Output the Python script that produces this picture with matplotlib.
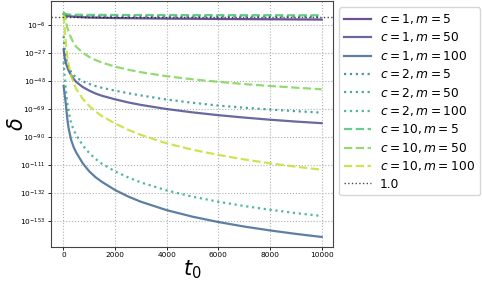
import numpy as np
import matplotlib
matplotlib.use("Agg")
import matplotlib.pyplot as plt

# t0 grid the curves were read at
t0 = [10, 50, 100, 150, 200, 300, 400, 500, 750, 1000, 1250, 1500,
      2000, 2500, 3000, 4000, 5000, 6000, 7000, 8000, 9000, 10000]

# log10(delta)
c1_m5 = [2.5, 1.8, 1.2, 1.0, 0.8, 0.6, 0.45, 0.3, 0.0, -0.2, -0.3, -0.4,
         -0.6, -0.7, -0.8, -1.0, -1.1, -1.3, -1.4, -1.5, -1.6, -1.7]
c1_m50 = [-24.0, -30.5, -34.5, -37.3, -39.8, -43.5, -46.3, -48.5, -52.3, -55.0, -57.2, -58.9,
          -61.5, -63.8, -65.7, -68.8, -71.3, -73.4, -75.2, -76.8, -78.2, -79.4]
c1_m100 = [-51.5, -58.0, -66.0, -76.0, -83.0, -92.0, -97.5, -101.5, -109.5, -115.5, -120.0, -123.5,
           -129.5, -134.3, -138.3, -144.6, -149.5, -153.5, -156.9, -159.8, -162.4, -164.7]
c2_m5 = [3.0, 2.0, 1.4, 1.2, 1.1, 1.0, 0.95, 0.9, 0.85, 0.8, 0.78, 0.75,
         0.7, 0.68, 0.65, 0.6, 0.55, 0.5, 0.5, 0.45, 0.45, 0.4]
c2_m50 = [-14.0, -24.0, -30.0, -34.5, -37.3, -41.0, -43.4, -45.2, -48.0, -50.0, -51.6, -52.9,
          -55.0, -56.9, -58.6, -61.7, -64.1, -66.2, -67.8, -69.2, -70.4, -71.5]
c2_m100 = [-33.5, -45.0, -55.0, -64.0, -70.5, -79.5, -84.5, -88.5, -96.0, -101.8, -106.3, -109.9,
           -115.5, -120.0, -123.8, -129.8, -134.5, -138.3, -141.5, -144.3, -146.8, -149.0]
c10_m5 = [3.5, 2.8, 2.4, 2.2, 2.1, 2.0, 1.95, 1.9, 1.85, 1.8, 1.8, 1.75,
          1.7, 1.7, 1.7, 1.65, 1.6, 1.6, 1.55, 1.55, 1.5, 1.5]
c10_m50 = [4.0, 1.0, -3.5, -7.5, -10.8, -15.5, -19.3, -22.2, -26.5, -29.8, -32.1, -34.0,
           -37.0, -39.3, -41.2, -44.2, -46.5, -48.4, -50.1, -51.5, -52.8, -54.0]
c10_m100 = [1.5, -8.0, -20.0, -29.0, -35.5, -43.8, -49.5, -53.8, -61.2, -66.5, -70.7, -74.2,
            -79.6, -84.3, -88.2, -94.5, -99.3, -103.2, -106.6, -109.5, -112.0, -114.3]

series = [
    ("$c=1, m=5$", c1_m5, "-"),
    ("$c=1, m=50$", c1_m50, "-"),
    ("$c=1, m=100$", c1_m100, "-"),
    ("$c=2, m=5$", c2_m5, ":"),
    ("$c=2, m=50$", c2_m50, ":"),
    ("$c=2, m=100$", c2_m100, ":"),
    ("$c=10, m=5$", c10_m5, "--"),
    ("$c=10, m=50$", c10_m50, "--"),
    ("$c=10, m=100$", c10_m100, "--"),
]

colors = plt.cm.viridis(np.linspace(0.1, 0.9, 9))

fig = plt.figure(figsize=(4.82, 2.82), dpi=100)
ax = fig.add_axes([0.1058, 0.1252, 0.5851, 0.8713])

for (label, vals, ls), col in zip(series, colors):
    ax.plot(t0, 10.0 ** np.array(vals), ls=ls, color=col, alpha=0.8,
            lw=1.6, label=label)

ax.axhline(1.0, color="black", ls=":", lw=1.0, alpha=0.7, label="1.0")

ax.set_yscale("log")
ax.set_xlim(-480, 10440)
ax.set_ylim(10.0 ** -172.0, 10.0 ** 12.2)
ax.set_yticks(10.0 ** np.arange(-153, 0, 21))
ax.minorticks_off()
ax.set_xticks([0, 2000, 4000, 6000, 8000, 10000])

ax.grid(True, ls=":", color="#b0b0b0", lw=0.8)
ax.tick_params(labelsize=5.3, length=2, width=0.6, pad=2)
for s in ax.spines.values():
    s.set_color("#444444")
    s.set_linewidth(0.8)

ax.set_xlabel("$t_0$", fontsize=15, labelpad=0)
ax.set_ylabel(r"$\delta$", fontsize=15)
ax.yaxis.set_label_coords(-0.085, 0.5)

ax.legend(loc="upper left", bbox_to_anchor=(1.0, 1.0), fontsize=8.8,
          handlelength=2.2, handletextpad=0.75, labelspacing=0.36,
          framealpha=0.8)

fig.savefig("out.png", dpi=100)
